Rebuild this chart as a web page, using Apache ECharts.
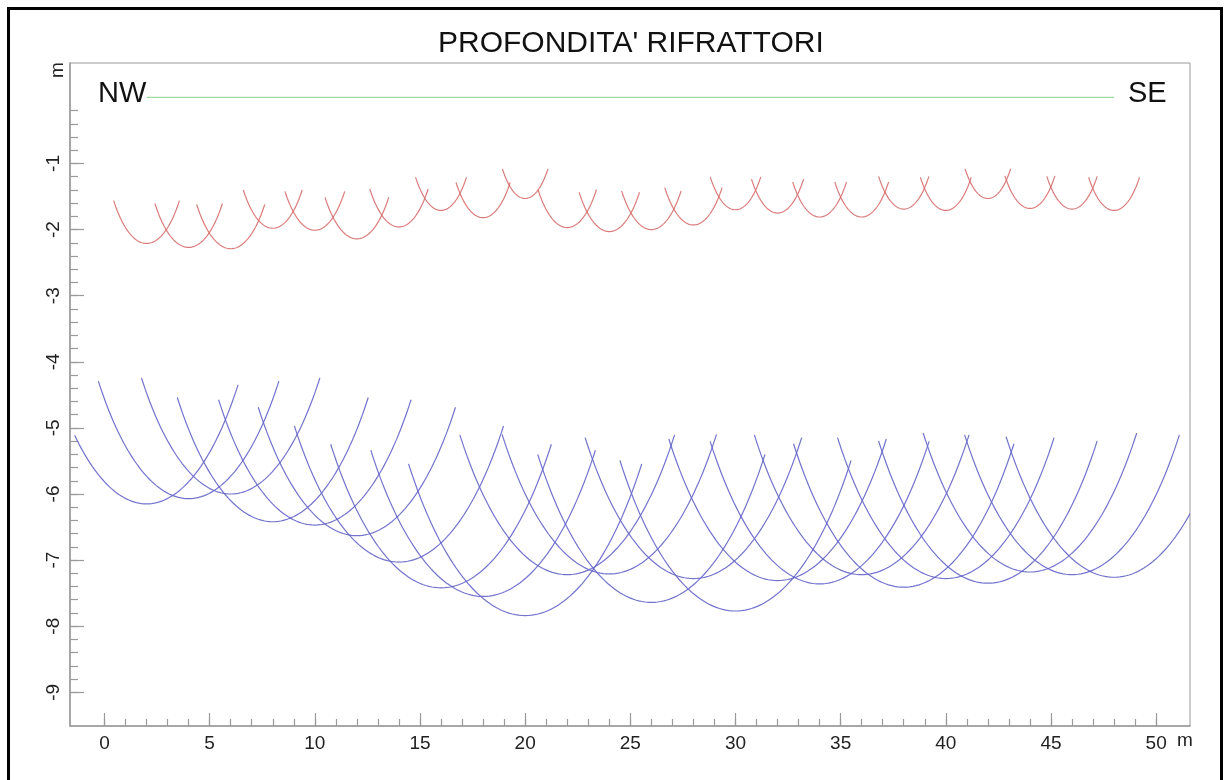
<!DOCTYPE html>
<html>
<head>
<meta charset="utf-8">
<script src="https://cdn.jsdelivr.net/npm/echarts@6/dist/echarts.min.js"></script>
<style>
  html, body { margin: 0; padding: 0; background: #fff; }
  #chart { width: 1229px; height: 780px; }
</style>
</head>
<body>
<div id="chart"></div>
<script>
// ---- data ----
var TITLE = "PROFONDITA' RIFRATTORI";
var GEOPHONES = [2, 4, 6, 8, 10, 12, 14, 16, 18, 20, 22, 24, 26, 28, 30, 32, 34, 36, 38, 40, 42, 44, 46, 48];
var RED_DEPTH = [2.21, 2.27, 2.29, 1.98, 2.01, 2.14, 1.96, 1.71, 1.82, 1.53, 1.97, 2.03,
                 2.00, 1.93, 1.70, 1.75, 1.81, 1.81, 1.69, 1.71, 1.53, 1.68, 1.69, 1.71];
var BLUE_DEPTH = [6.15, 6.07, 6.00, 6.42, 6.47, 6.63, 7.03, 7.42, 7.55, 7.84, 7.22, 7.21,
                  7.64, 7.28, 7.77, 7.31, 7.36, 7.22, 7.41, 7.28, 7.35, 7.18, 7.22, 7.26];
var SURFACE_X = [2, 48];
var SURFACE_Y = [0, 0];
var X_MAJOR = [0, 5, 10, 15, 20, 25, 30, 35, 40, 45, 50];
var X_MINOR = [0,1,2,3,4,5,6,7,8,9,10,11,12,13,14,15,16,17,18,19,20,21,22,23,24,25,
               26,27,28,29,30,31,32,33,34,35,36,37,38,39,40,41,42,43,44,45,46,47,48,49,50];
var Y_MAJOR = [-9, -8, -7, -6, -5, -4, -3, -2, -1];
var Y_MINOR = [-0.2,-0.4,-0.6,-0.8,-1,-1.2,-1.4,-1.6,-1.8,-2,-2.2,-2.4,-2.6,-2.8,-3,
               -3.2,-3.4,-3.6,-3.8,-4,-4.2,-4.4,-4.6,-4.8,-5,-5.2,-5.4,-5.6,-5.8,-6,
               -6.2,-6.4,-6.6,-6.8,-7,-7.2,-7.4,-7.6,-7.8,-8,-8.2,-8.4,-8.6,-8.8,-9];

// ---- rendering ----
var ARC_HALF_ANGLE = 45;   // degrees each side of vertical
var ARC_X_LIMIT = -1.43;   // left limit of drawn arcs
var FONT = 'Liberation Sans, Arial, sans-serif';
var AXIS_COLOR = '#9a9a9a';

function arcRenderer(color) {
  return function (params, api) {
    var xc = api.value(0), r = api.value(1);
    var pts = [];
    var N = 80;
    for (var i = 0; i <= N; i++) {
      var a = (-ARC_HALF_ANGLE + 2 * ARC_HALF_ANGLE * i / N) * Math.PI / 180;
      var x = xc + r * Math.sin(a);
      var y = -r * Math.cos(a);
      if (x < ARC_X_LIMIT) continue;
      pts.push(api.coord([x, y]));
    }
    return {
      type: 'polyline',
      shape: { points: pts },
      style: { stroke: color, fill: null, lineWidth: 1.2 },
      silent: true
    };
  };
}

var chart = echarts.init(document.getElementById('chart'), null, { renderer: 'canvas' });

var XMIN = -1.64, XMAX = 51.61, YMIN = -9.51, YMAX = 0.52;

var option = {
  backgroundColor: '#ffffff',
  animation: false,
  title: {
    text: TITLE,
    left: 433,
    top: 24,
    textStyle: { fontFamily: FONT, fontSize: 30, fontWeight: 'normal', color: '#111' }
  },
  grid: {
    left: 70, top: 63, width: 1120, height: 663,
    show: true, borderColor: AXIS_COLOR, borderWidth: 1, backgroundColor: 'transparent'
  },
  xAxis: [
    {
      type: 'value', min: XMIN, max: XMAX, position: 'bottom',
      axisLine: { show: true, onZero: false, lineStyle: { color: AXIS_COLOR, width: 1.5 } },
      axisTick: { show: true, inside: true, length: 13, customValues: X_MAJOR, lineStyle: { color: AXIS_COLOR, width: 1.2 } },
      axisLabel: { show: true, customValues: X_MAJOR, margin: 8, fontFamily: FONT, fontSize: 19, color: '#222' },
      splitLine: { show: false }
    },
    {
      type: 'value', min: XMIN, max: XMAX, position: 'bottom', gridIndex: 0,
      axisLine: { show: false, onZero: false },
      axisTick: { show: true, inside: true, length: 7, customValues: X_MINOR, lineStyle: { color: AXIS_COLOR, width: 1.2 } },
      axisLabel: { show: false },
      splitLine: { show: false }
    }
  ],
  yAxis: [
    {
      type: 'value', min: YMIN, max: YMAX, position: 'left',
      axisLine: { show: true, onZero: false, lineStyle: { color: AXIS_COLOR, width: 1.5 } },
      axisTick: { show: true, inside: true, length: 14, customValues: Y_MAJOR, lineStyle: { color: AXIS_COLOR, width: 1.2 } },
      axisLabel: { show: true, customValues: Y_MAJOR, rotate: 90, margin: 7, fontFamily: FONT, fontSize: 19, color: '#222' },
      splitLine: { show: false }
    },
    {
      type: 'value', min: YMIN, max: YMAX, position: 'left', gridIndex: 0,
      axisLine: { show: false, onZero: false },
      axisTick: { show: true, inside: true, length: 8, customValues: Y_MINOR, lineStyle: { color: AXIS_COLOR, width: 1.2 } },
      axisLabel: { show: false },
      splitLine: { show: false }
    }
  ],
  series: [
    {
      type: 'line',
      xAxisIndex: 0, yAxisIndex: 0,
      data: SURFACE_X.map(function (x, i) { return [x, SURFACE_Y[i]]; }),
      showSymbol: false,
      lineStyle: { color: '#9ed99e', width: 1.2 },
      silent: true
    },
    {
      type: 'custom',
      xAxisIndex: 0, yAxisIndex: 0,
      clip: true,
      data: GEOPHONES.map(function (x, i) { return [x, RED_DEPTH[i]]; }),
      renderItem: arcRenderer('rgba(215,110,110,0.9)')
    },
    {
      type: 'custom',
      xAxisIndex: 0, yAxisIndex: 0,
      clip: true,
      data: GEOPHONES.map(function (x, i) { return [x, BLUE_DEPTH[i]]; }),
      renderItem: arcRenderer('rgba(100,100,200,0.9)')
    }
  ],
  graphic: [
    {
      type: 'rect', silent: true, z: 100,
      shape: { x: 8.5, y: 8.5, width: 1213, height: 800 },
      style: { fill: null, stroke: '#000', lineWidth: 3 }
    },
    {
      type: 'text', left: 98, top: 79, silent: true,
      style: { text: 'NW', fontFamily: FONT, fontSize: 29, fill: '#111' }
    },
    {
      type: 'text', left: 1128, top: 79, silent: true,
      style: { text: 'SE', fontFamily: FONT, fontSize: 29, fill: '#111' }
    },
    {
      type: 'text', left: 1177, top: 731, silent: true,
      style: { text: 'm', fontFamily: FONT, fontSize: 19, fill: '#222' }
    },
    {
      type: 'text', x: 58, y: 70, rotation: Math.PI / 2, silent: true,
      style: { text: 'm', fontFamily: FONT, fontSize: 19, fill: '#222', align: 'center', verticalAlign: 'middle' }
    }
  ]
};

chart.setOption(option);
</script>
</body>
</html>
